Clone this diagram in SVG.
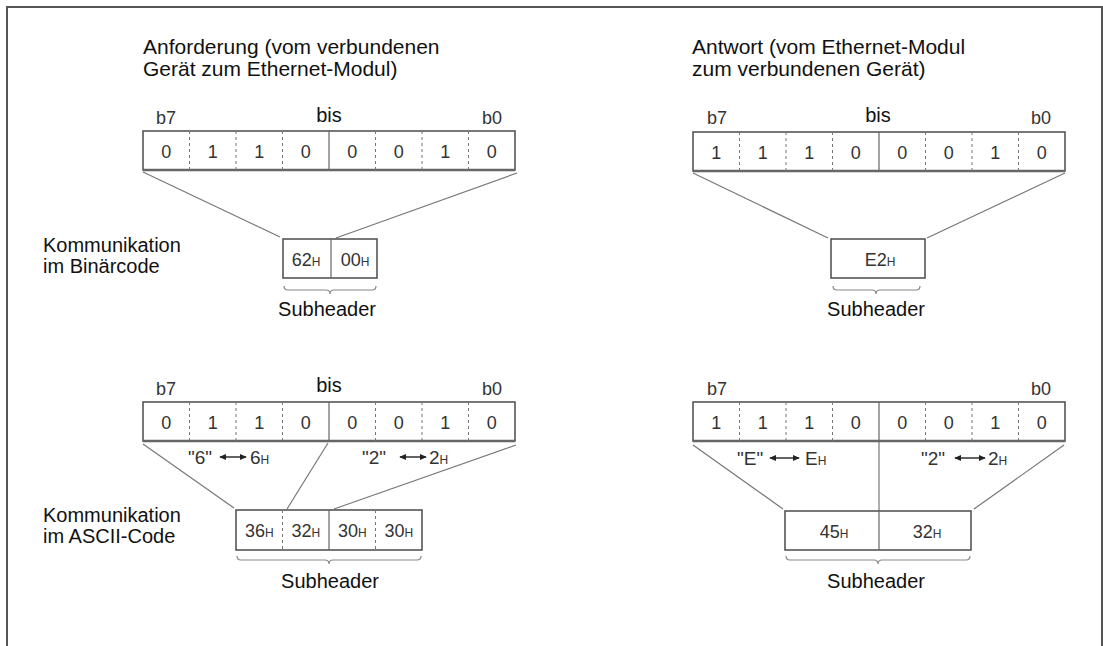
<svg xmlns="http://www.w3.org/2000/svg" width="1103" height="646" viewBox="0 0 1103 646">
<style>
text{font-family:"Liberation Sans",Arial,sans-serif;fill:#111}
.lbl{font-size:20px}
.ttl{font-size:21px}
.bit{font-size:18px;fill:#333;text-anchor:middle}
.bl{font-size:18px;fill:#333}
.num{font-size:18px;fill:#333;text-anchor:middle}
.sub{font-size:12px}
.ann{font-size:19px;fill:#333}
.box{fill:#fff;stroke:#555;stroke-width:1.6}
.dash{stroke:#777;stroke-width:1;stroke-dasharray:3,3}
.sol{stroke:#666;stroke-width:1.2}
.conn{stroke:#777;stroke-width:1.2;fill:none}
.brace{stroke:#888;stroke-width:1.2;fill:none}
.arr{stroke:#222;stroke-width:1.4;marker-start:url(#ah);marker-end:url(#ah)}
</style>
<defs>
<marker id="ah" viewBox="0 0 8 8" refX="7" refY="4" markerWidth="7" markerHeight="7" orient="auto-start-reverse" markerUnits="userSpaceOnUse"><path d="M0,0.5 L8,4 L0,7.5 Z" fill="#222"/></marker>
<g id="bitframe">
<rect class="box" x="0" y="0" width="372" height="39"/>
<line x1="0" y1="39" x2="372" y2="39" stroke="#666" stroke-width="2.5"/>
<line class="dash" x1="46.5" y1="0" x2="46.5" y2="39"/>
<line class="dash" x1="93" y1="0" x2="93" y2="39"/>
<line class="dash" x1="139.5" y1="0" x2="139.5" y2="39"/>
<line class="sol" x1="186" y1="0" x2="186" y2="39"/>
<line class="dash" x1="232.5" y1="0" x2="232.5" y2="39"/>
<line class="dash" x1="279" y1="0" x2="279" y2="39"/>
<line class="dash" x1="325.5" y1="0" x2="325.5" y2="39"/>
</g>
</defs>
<rect width="1103" height="646" fill="#fff"/>
<path d="M7,646 L7,7 L1102,7 L1102,646" fill="none" stroke="#555" stroke-width="2"/>

<g id="connectors">
<line class="conn" x1="143" y1="172" x2="280" y2="237"/>
<line class="conn" x1="517" y1="173" x2="336" y2="238"/>
<line class="conn" x1="693" y1="173" x2="828" y2="238"/>
<line class="conn" x1="1065" y1="173" x2="927" y2="238"/>
<line class="conn" x1="143" y1="444" x2="234" y2="508"/>
<line class="conn" x1="328" y1="443" x2="287" y2="509"/>
<line class="conn" x1="516" y1="445" x2="334" y2="509"/>
<line class="conn" x1="693" y1="445" x2="783" y2="509"/>
<line class="conn" x1="1064" y1="445" x2="974" y2="509"/>
<line class="conn" x1="879" y1="442" x2="879" y2="511"/>
</g>

<g id="title-left">
<text class="ttl" x="143" y="54">Anforderung (vom verbundenen</text>
<text class="ttl" x="143" y="76">Gerät zum Ethernet-Modul)</text>
</g>
<g id="title-right">
<text class="ttl" x="692" y="54">Antwort (vom Ethernet-Modul</text>
<text class="ttl" x="692" y="76">zum verbundenen Gerät)</text>
</g>

<g id="label-bin">
<text class="lbl" x="43" y="252">Kommunikation</text>
<text class="lbl" x="43" y="273">im Binärcode</text>
</g>
<g id="label-ascii">
<text class="lbl" x="43" y="522">Kommunikation</text>
<text class="lbl" x="43" y="543">im ASCII-Code</text>
</g>

<g id="bits-req-bin">
<text class="bl" x="156" y="124">b7</text>
<text class="lbl" x="329" y="122" text-anchor="middle">bis</text>
<text class="bl" x="482" y="124">b0</text>
<use href="#bitframe" x="143" y="131"/>
<text class="bit" x="166.25" y="158">0</text>
<text class="bit" x="212.75" y="158">1</text>
<text class="bit" x="259.25" y="158">1</text>
<text class="bit" x="305.75" y="158">0</text>
<text class="bit" x="352.25" y="158">0</text>
<text class="bit" x="398.75" y="158">0</text>
<text class="bit" x="445.25" y="158">1</text>
<text class="bit" x="491.75" y="158">0</text>
</g>

<g id="bits-res-bin">
<text class="bl" x="707" y="124">b7</text>
<text class="lbl" x="878" y="122" text-anchor="middle">bis</text>
<text class="bl" x="1031" y="124">b0</text>
<use href="#bitframe" x="693" y="132"/>
<text class="bit" x="716.25" y="159">1</text>
<text class="bit" x="762.75" y="159">1</text>
<text class="bit" x="809.25" y="159">1</text>
<text class="bit" x="855.75" y="159">0</text>
<text class="bit" x="902.25" y="159">0</text>
<text class="bit" x="948.75" y="159">0</text>
<text class="bit" x="995.25" y="159">1</text>
<text class="bit" x="1041.75" y="159">0</text>
</g>

<g id="sub-req-bin">
<rect class="box" x="283" y="239" width="94" height="39"/>
<line class="sol" x1="331" y1="239" x2="331" y2="278"/>
<text class="num" x="306" y="266">62<tspan class="sub">H</tspan></text>
<text class="num" x="355" y="266">00<tspan class="sub">H</tspan></text>
<path class="brace" d="M284,286 Q284,290 288,290 L326,290 Q330,290 330,294 Q330,290 334,290 L372,290 Q376,290 376,286"/>
<text class="lbl" x="327" y="316" text-anchor="middle">Subheader</text>
</g>

<g id="sub-res-bin">
<rect class="box" x="831" y="239" width="94" height="39"/>
<text class="num" x="880" y="266">E2<tspan class="sub">H</tspan></text>
<path class="brace" d="M833,286 Q833,290 837,290 L872,290 Q876,290 876,294 Q876,290 880,290 L916,290 Q920,290 920,286"/>
<text class="lbl" x="876" y="316" text-anchor="middle">Subheader</text>
</g>

<g id="bits-req-ascii">
<text class="bl" x="156" y="395">b7</text>
<text class="lbl" x="329" y="392" text-anchor="middle">bis</text>
<text class="bl" x="482" y="395">b0</text>
<use href="#bitframe" x="143" y="402"/>
<text class="bit" x="166.25" y="429">0</text>
<text class="bit" x="212.75" y="429">1</text>
<text class="bit" x="259.25" y="429">1</text>
<text class="bit" x="305.75" y="429">0</text>
<text class="bit" x="352.25" y="429">0</text>
<text class="bit" x="398.75" y="429">0</text>
<text class="bit" x="445.25" y="429">1</text>
<text class="bit" x="491.75" y="429">0</text>
<text class="ann" x="188" y="464">"6"</text>
<line class="arr" x1="220" y1="457" x2="246" y2="457"/>
<text class="ann" x="250" y="464">6<tspan class="sub">H</tspan></text>
<text class="ann" x="362" y="464">"2"</text>
<line class="arr" x1="400" y1="457" x2="426" y2="457"/>
<text class="ann" x="429" y="464">2<tspan class="sub">H</tspan></text>
</g>

<g id="bits-res-ascii">
<text class="bl" x="707" y="395">b7</text>
<text class="bl" x="1031" y="395">b0</text>
<use href="#bitframe" x="693" y="402"/>
<text class="bit" x="716.25" y="429">1</text>
<text class="bit" x="762.75" y="429">1</text>
<text class="bit" x="809.25" y="429">1</text>
<text class="bit" x="855.75" y="429">0</text>
<text class="bit" x="902.25" y="429">0</text>
<text class="bit" x="948.75" y="429">0</text>
<text class="bit" x="995.25" y="429">1</text>
<text class="bit" x="1041.75" y="429">0</text>
<text class="ann" x="737" y="465">"E"</text>
<line class="arr" x1="770" y1="458" x2="799" y2="458"/>
<text class="ann" x="805" y="465">E<tspan class="sub">H</tspan></text>
<text class="ann" x="921" y="465">"2"</text>
<line class="arr" x1="955" y1="458" x2="985" y2="458"/>
<text class="ann" x="988" y="465">2<tspan class="sub">H</tspan></text>
</g>

<g id="sub-req-ascii">
<rect class="box" x="236" y="510" width="186" height="40"/>
<line class="dash" x1="282.5" y1="510" x2="282.5" y2="550"/>
<line class="sol" x1="329" y1="510" x2="329" y2="550"/>
<line class="dash" x1="375.5" y1="510" x2="375.5" y2="550"/>
<text class="num" x="259.25" y="537">36<tspan class="sub">H</tspan></text>
<text class="num" x="305.75" y="537">32<tspan class="sub">H</tspan></text>
<text class="num" x="352.25" y="537">30<tspan class="sub">H</tspan></text>
<text class="num" x="398.75" y="537">30<tspan class="sub">H</tspan></text>
<path class="brace" d="M237,556 Q237,560 241,560 L325,560 Q329,560 329,564 Q329,560 333,560 L417,560 Q421,560 421,556"/>
<text class="lbl" x="330" y="588" text-anchor="middle">Subheader</text>
</g>

<g id="sub-res-ascii">
<rect class="box" x="785" y="511" width="186" height="39"/>
<line class="sol" x1="879" y1="511" x2="879" y2="550"/>
<text class="num" x="834" y="538">45<tspan class="sub">H</tspan></text>
<text class="num" x="927" y="538">32<tspan class="sub">H</tspan></text>
<path class="brace" d="M786,556 Q786,560 790,560 L874,560 Q878,560 878,564 Q878,560 882,560 L966,560 Q970,560 970,556"/>
<text class="lbl" x="876" y="588" text-anchor="middle">Subheader</text>
</g>
</svg>
